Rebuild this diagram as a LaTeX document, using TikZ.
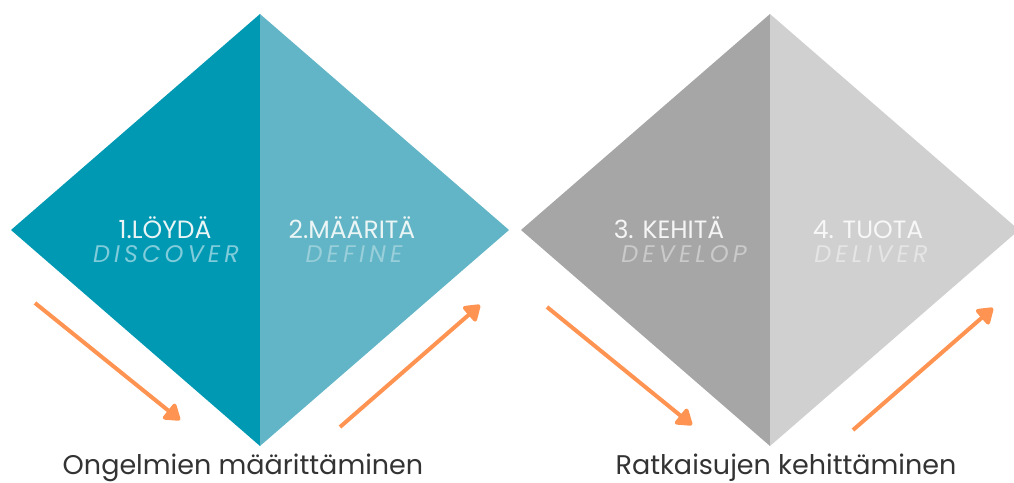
\documentclass[tikz,border=0pt]{standalone}
\usepackage{fontspec}
\setmainfont{Poppins}
\usetikzlibrary{arrows.meta}
\definecolor{tealdark}{HTML}{0099B4}
\definecolor{teallight}{HTML}{62B5C6}
\definecolor{graydark}{HTML}{A6A6A6}
\definecolor{graylight}{HTML}{D0D0D0}
\definecolor{flowcol}{HTML}{FF9452}
\definecolor{labelcol}{HTML}{333333}

\begin{document}
\begin{tikzpicture}[x=1pt,y=-1pt,
  step head/.style={anchor=base, inner sep=0pt, font=\fontsize{25}{25}\selectfont},
  step sub/.style={anchor=base, inner sep=0pt, font=\fontsize{24}{24}\selectfont\itshape\addfontfeatures{LetterSpace=17}},
  phase/.style={anchor=base, inner sep=0pt, text=labelcol, font=\fontsize{27}{27}\selectfont},
  flow/.style={draw=flowcol, line width=4pt, -{Triangle[length=17pt,width=22pt,round]}}]
  \useasboundingbox (0,0) rectangle (1014,482);
  \def\hw{249}   % half width of a diamond
  % diamonds, each split in two halves
  \foreach \cx/\cl/\cr in {260/tealdark/teallight, 770/graydark/graylight} {
    \fill[\cl] (\cx,14) -- (\cx-\hw,230) -- (\cx,446) -- cycle;
    \fill[\cr] (\cx,14) -- (\cx+\hw,230) -- (\cx,446) -- cycle;
  }
  % step titles
  \node[step head, text=white!92!teal] (s1) at (165,238) {1.LÖYDÄ};
  \node[step sub, text=white!50!tealdark] (s1e) at (166,262) {DISCOVER};
  \node[step head, text=white!92!teal] (s2) at (352,238) {2.MÄÄRITÄ};
  \node[step sub, text=white!35!teallight] (s2e) at (354,262) {DEFINE};
  \node[step head, text=white!92!gray] (s3) at (669,238) {3. KEHITÄ};
  \node[step sub, text=white!40!graydark] (s3e) at (684,262) {DEVELOP};
  \node[step head, text=white!94!gray] (s4) at (868,238) {4. TUOTA};
  \node[step sub, text=white!45!graylight] (s4e) at (871,262) {DELIVER};
  % phases
  \node[phase] (p1) at (243,474) {Ongelmien määrittäminen};
  \node[phase] (p2) at (786,474) {Ratkaisujen kehittäminen};
  % flow arrows
  \coordinate (f1a) at (35,303);  \coordinate (f1b) at (180,420);
  \coordinate (f2a) at (340,427); \coordinate (f2b) at (480,305);
  \coordinate (f3a) at (547,307); \coordinate (f3b) at (692,425);
  \coordinate (f4a) at (853,430); \coordinate (f4b) at (993,308);
  \foreach \i in {1,2,3,4} { \draw[flow] (f\i a) -- (f\i b); }
\end{tikzpicture}
\end{document}
